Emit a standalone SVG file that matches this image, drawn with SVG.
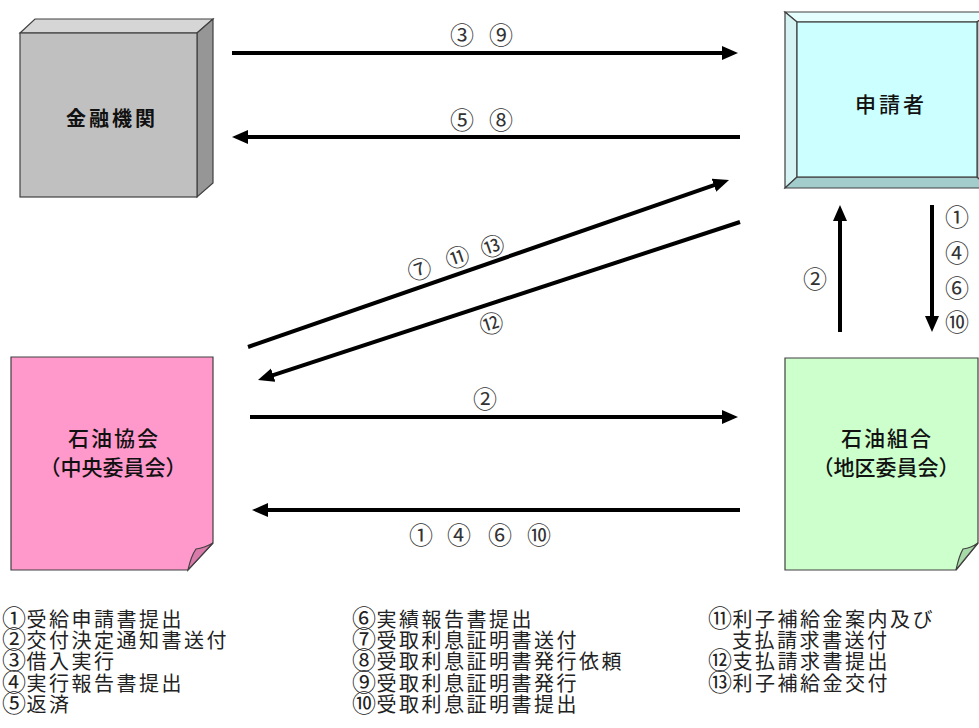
<svg xmlns="http://www.w3.org/2000/svg" width="979" height="728" viewBox="0 0 979 728">
<style>
  .title{font-family:"Noto Sans CJK JP","Noto Sans CJK SC",sans-serif;font-size:20px;font-weight:bold;fill:#111;text-anchor:middle}
  .sub{font-family:"Noto Sans CJK JP","Noto Sans CJK SC",sans-serif;font-size:21px;font-weight:500;fill:#111;text-anchor:middle}
  .num{font-family:"Noto Sans CJK JP","Noto Sans CJK SC",sans-serif;font-size:24px;fill:#333;text-anchor:middle;dominant-baseline:central}
  .leg{font-family:"Noto Sans CJK JP","Noto Sans CJK SC",sans-serif;font-size:20px;letter-spacing:2.5px;fill:#222}
  .c{font-size:24px;letter-spacing:0.5px}
  .conn{stroke:#000;stroke-width:4;fill:none;marker-end:url(#ah)}
  .edge{stroke:#404040;stroke-width:1.2}
</style>
<defs>
  <marker id="ah" markerUnits="userSpaceOnUse" markerWidth="17" markerHeight="15" refX="4" refY="7" orient="auto">
    <path d="M0,0 L16,7 L0,14 Z" fill="#000"/>
  </marker>
</defs>
<rect width="979" height="728" fill="#fff"/>

<g id="kinyu-kikan">
  <polygon class="edge" points="20,33 35,19 213,19 197,33" fill="#d6d6d6"/>
  <polygon class="edge" points="197,33 213,19 213,183 197,197" fill="#969696"/>
  <rect class="edge" x="20" y="33" width="177" height="164" fill="#c0c0c0"/>
  <text class="title" x="112" y="126" letter-spacing="3">金融機関</text>
</g>

<g id="shinseisha">
  <polygon class="edge" points="785,12 990,12 977,22 797,22" fill="#e6ffff"/>
  <polygon class="edge" points="785,12 797,22 797,177 785,188" fill="#d5f3f3"/>
  <polygon class="edge" points="785,188 797,177 977,177 990,188" fill="#a3cccc"/>
  <polygon class="edge" points="977,22 990,12 990,188 977,177" fill="#a3cccc"/>
  <rect class="edge" x="797" y="22" width="180" height="155" fill="#ccffff"/>
  <text class="sub" x="891" y="112" letter-spacing="3">申請者</text>
</g>

<g id="sekiyu-kyokai">
  <polygon class="edge" points="11,357 213,357 213,543 188,570 11,570" fill="#ff99cc"/>
  <path class="edge" d="M188,570 Q191,556 196,549 Q204,548 213,543 Z" fill="#d97aaa"/>
  <text class="sub" x="114" y="446" letter-spacing="2">石油協会</text>
  <text class="sub" x="113" y="475">（中央委員会）</text>
</g>

<g id="sekiyu-kumiai">
  <polygon class="edge" points="785,358 978,358 978,543 956,570 785,570" fill="#ccffcc"/>
  <path class="edge" d="M956,570 Q959,556 963,549 Q971,548 978,543 Z" fill="#a8d9a8"/>
  <text class="sub" x="887" y="446" letter-spacing="2">石油組合</text>
  <text class="sub" x="886" y="475">（地区委員会）</text>
</g>

<g id="connectors">
  <line class="conn" x1="232" y1="53" x2="726" y2="53"/>
  <line class="conn" x1="740" y1="137" x2="244" y2="137"/>
  <line class="conn" x1="248" y1="347" x2="717.7" y2="183.9"/>
  <line class="conn" x1="740" y1="222" x2="269.4" y2="376.3"/>
  <line class="conn" x1="840" y1="332" x2="840" y2="217"/>
  <line class="conn" x1="932" y1="205" x2="932" y2="320"/>
  <line class="conn" x1="250" y1="417" x2="726" y2="417"/>
  <line class="conn" x1="740" y1="510" x2="264" y2="510"/>
</g>

<g id="labels">
  <text class="num" x="462" y="33">③</text>
  <text class="num" x="501" y="33">⑨</text>
  <text class="num" x="462" y="118">⑤</text>
  <text class="num" x="501" y="118">⑧</text>
  <text class="num" x="419" y="268" transform="rotate(-19 419 268)">⑦</text>
  <text class="num" x="457" y="256" transform="rotate(-19 457 256)">⑪</text>
  <text class="num" x="492" y="245" transform="rotate(-19 492 245)">⑬</text>
  <text class="num" x="491" y="322" transform="rotate(-18 491 322)">⑫</text>
  <text class="num" x="815" y="277">②</text>
  <text class="num" x="957" y="215">①</text>
  <text class="num" x="957" y="251">④</text>
  <text class="num" x="957" y="286">⑥</text>
  <text class="num" x="957" y="320">⑩</text>
  <text class="num" x="485" y="397">②</text>
  <text class="num" x="421" y="533">①</text>
  <text class="num" x="459" y="533">④</text>
  <text class="num" x="500" y="533">⑥</text>
  <text class="num" x="539" y="533">⑩</text>
</g>

<g id="legend">
  <text class="leg" x="2" y="627"><tspan class="c">①</tspan>受給申請書提出</text>
  <text class="leg" x="2" y="648"><tspan class="c">②</tspan>交付決定通知書送付</text>
  <text class="leg" x="2" y="669"><tspan class="c">③</tspan>借入実行</text>
  <text class="leg" x="2" y="691"><tspan class="c">④</tspan>実行報告書提出</text>
  <text class="leg" x="2" y="712"><tspan class="c">⑤</tspan>返済</text>
  <text class="leg" x="352" y="627"><tspan class="c">⑥</tspan>実績報告書提出</text>
  <text class="leg" x="352" y="648"><tspan class="c">⑦</tspan>受取利息証明書送付</text>
  <text class="leg" x="352" y="669"><tspan class="c">⑧</tspan>受取利息証明書発行依頼</text>
  <text class="leg" x="352" y="691"><tspan class="c">⑨</tspan>受取利息証明書発行</text>
  <text class="leg" x="352" y="712"><tspan class="c">⑩</tspan>受取利息証明書提出</text>
  <text class="leg" x="708" y="627"><tspan class="c">⑪</tspan>利子補給金案内及び</text>
  <text class="leg" x="732" y="648">支払請求書送付</text>
  <text class="leg" x="708" y="669"><tspan class="c">⑫</tspan>支払請求書提出</text>
  <text class="leg" x="708" y="691"><tspan class="c">⑬</tspan>利子補給金交付</text>
</g>
</svg>
